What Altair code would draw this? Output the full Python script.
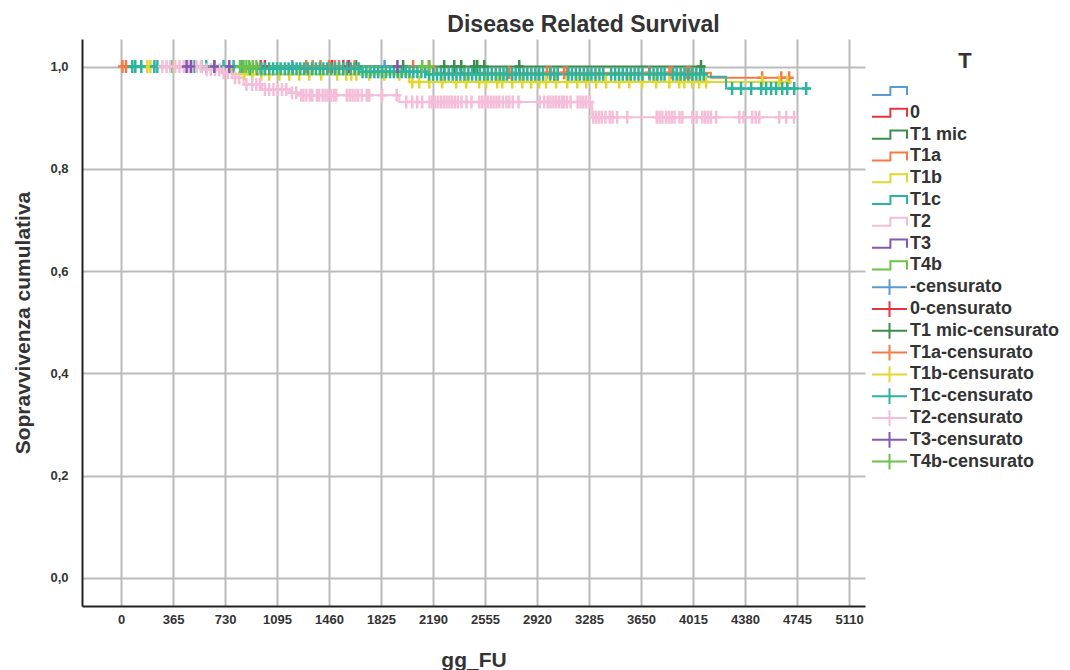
import altair as alt
import pandas as pd

FONT = "Liberation Sans"

GROUPS = ["", "0", "T1 mic", "T1a", "T1b", "T1c", "T2", "T3", "T4b"]
COLORS = ["#5b9bd5", "#e8333f", "#3b8d4c", "#f47b45", "#e3d62d",
          "#2bb59e", "#f5bdd7", "#8358b3", "#6cc24a"]
X_TICKS = [0, 365, 730, 1095, 1460, 1825, 2190, 2555, 2920, 3285,
           3650, 4015, 4380, 4745, 5110]
Y_TICKS = [0.0, 0.2, 0.4, 0.6, 0.8, 1.0]

# ---- group "" (blank) ----
blank_event_days = []
blank_event_surv = []
blank_end = 1850
blank_censored = [1202, 1590, 1850]

# ---- group "0" ----
zero_event_days = []
zero_event_surv = []
zero_end = 1600
zero_censored = [980, 1010, 1480, 1560, 1600]

# ---- group "T1 mic" ----
t1mic_event_days = []
t1mic_event_surv = []
t1mic_end = 4100
t1mic_censored = [1650, 1980, 2268, 2339, 2388, 2479, 2500, 2549, 2795, 4071]

# ---- group "T1a" ----
t1a_event_days = [2200, 4140]
t1a_event_surv = [0.988, 0.978]
t1a_end = 4690
t1a_censored = [10, 35, 1300, 1345, 1400, 1460, 1500, 1530, 1640, 2050, 2160,
                2725, 2990, 3015, 3110, 3130, 3707, 3850, 3870, 3970, 3990,
                4500, 4634, 4690]

# ---- group "T1b" ----
t1b_event_days = [775, 2023]
t1b_event_surv = [0.985, 0.970]
t1b_end = 4690
t1b_censored = [185, 206, 374, 865, 921, 984, 1040, 1111, 1181, 1251, 1321,
                1405, 1517, 1581, 1616, 1651, 1742, 1848, 1953, 2044, 2093,
                2163, 2254, 2353, 2423, 2514, 2563, 2640, 2676, 2746, 2816,
                2879, 2935, 2984, 3054, 3131, 3202, 3265, 3335, 3405, 3497,
                3567, 3658, 3756, 3848, 3918, 3953, 4009, 4058, 4107, 4500,
                4620, 4676]

# ---- group "T1c" ----
t1c_event_days = [900, 1672, 2142, 4107, 4247]
t1c_event_surv = [0.996, 0.990, 0.985, 0.980, 0.957]
t1c_end = 4844
t1c_censored = [79, 100, 142, 234, 255, 352, 514, 563, 598, 655, 720, 790,
                850, 905, 956, 985, 1010, 1040, 1068, 1095, 1120, 1150, 1176,
                1205, 1232, 1258, 1285, 1312, 1340, 1368, 1395, 1420, 1448,
                1475, 1503, 1530, 1558, 1585, 1612, 1640, 1668, 1695, 1722,
                1750, 1778, 1805, 1832, 1860, 1888, 1915, 1942, 1970, 1998,
                2025, 2052, 2080, 2108, 2135, 2162, 2190, 2218, 2245, 2272,
                2300, 2328, 2355, 2382, 2410, 2438, 2465, 2492, 2520, 2548,
                2575, 2602, 2630, 2658, 2685, 2708, 2745, 2770, 2798, 2825,
                2852, 2880, 2908, 2935, 2962, 3012, 3040, 3065, 3140, 3165,
                3192, 3220, 3248, 3275, 3302, 3330, 3358, 3385, 3440, 3468,
                3495, 3522, 3550, 3578, 3605, 3632, 3660, 3710, 3738, 3765,
                3792, 3815, 3875, 3900, 3928, 3955, 3982, 4010, 4038, 4065,
                4090, 4289, 4352, 4423, 4493, 4528, 4563, 4598, 4641, 4676,
                4725, 4809]

# ---- group "T2" ----
t2_event_days = [584, 704, 780, 860, 990, 1181, 1260, 1953, 3307]
t2_event_surv = [0.994, 0.988, 0.978, 0.965, 0.955, 0.949, 0.944, 0.931, 0.901]
t2_end = 4724
t2_censored = [290, 320, 345, 380, 410, 440, 470, 500, 530, 560, 600, 630,
               660, 690, 720, 750, 800, 830, 880, 920, 950, 975, 1010, 1040,
               1070, 1100, 1130, 1160, 1200, 1230, 1265, 1280, 1300, 1325,
               1342, 1375, 1391, 1415, 1435, 1455, 1475, 1495, 1510, 1585,
               1605, 1625, 1645, 1665, 1690, 1725, 1742, 1833, 1935, 2002,
               2044, 2079, 2114, 2165, 2185, 2205, 2225, 2245, 2265, 2285,
               2305, 2325, 2345, 2365, 2390, 2425, 2460, 2515, 2535, 2555,
               2575, 2595, 2615, 2635, 2655, 2680, 2705, 2725, 2750, 2790,
               2940, 2970, 2995, 3015, 3035, 3055, 3075, 3095, 3110, 3130,
               3155, 3205, 3225, 3245, 3265, 3290, 3315, 3335, 3355, 3375,
               3400, 3430, 3450, 3482, 3553, 3760, 3780, 3800, 3825, 3845,
               3865, 3885, 3920, 3940, 4010, 4040, 4080, 4100, 4120, 4140,
               4177, 4340, 4370, 4430, 4455, 4480, 4620, 4669, 4724]

# ---- group "T3" ----
t3_event_days = []
t3_event_surv = []
t3_end = 1953
t3_censored = [460, 490, 655, 760, 1940]

# ---- group "T4b" ----
t4b_event_days = []
t4b_event_surv = []
t4b_end = 2165
t4b_censored = [835, 860, 880, 900, 925, 950, 2114, 2165]

GROUP_DATA = [
    ("", blank_event_days, blank_event_surv, blank_end, blank_censored),
    ("0", zero_event_days, zero_event_surv, zero_end, zero_censored),
    ("T1 mic", t1mic_event_days, t1mic_event_surv, t1mic_end, t1mic_censored),
    ("T1a", t1a_event_days, t1a_event_surv, t1a_end, t1a_censored),
    ("T1b", t1b_event_days, t1b_event_surv, t1b_end, t1b_censored),
    ("T1c", t1c_event_days, t1c_event_surv, t1c_end, t1c_censored),
    ("T2", t2_event_days, t2_event_surv, t2_end, t2_censored),
    ("T3", t3_event_days, t3_event_surv, t3_end, t3_censored),
    ("T4b", t4b_event_days, t4b_event_surv, t4b_end, t4b_censored),
]


def km_at(t, ev_days, ev_surv):
    s = 1.0
    for d, v in zip(ev_days, ev_surv):
        if d <= t:
            s = v
    return s


line_rows, cens_rows = [], []
for gi, (g, ev_d, ev_s, end, cens) in enumerate(GROUP_DATA):
    line_rows.append(dict(lab=g, gi=gi, t=0, s=1.0))
    for d, v in zip(ev_d, ev_s):
        line_rows.append(dict(lab=g, gi=gi, t=d, s=v))
    line_rows.append(dict(lab=g, gi=gi, t=end, s=km_at(end, ev_d, ev_s)))
    for c in cens:
        cens_rows.append(dict(lab=g + "-censurato", gi=gi, t=c,
                              s=km_at(c, ev_d, ev_s)))

lines_df = pd.DataFrame(line_rows)
cens_df = pd.DataFrame(cens_rows)

LEGEND_LABELS = GROUPS + [g + "-censurato" for g in GROUPS]
STEP_PATH = "M-1,0.23H0.05V-0.23H1V0.23"
CROSS_LEGEND = "M-1,0H1M0,-0.45V0.45"
CROSS_MARK = "M-0.7,0H0.7M0,-1V1"

legend_df = pd.DataFrame({"lab": LEGEND_LABELS,
                          "t": [-9000] * len(LEGEND_LABELS),
                          "s": [0.5] * len(LEGEND_LABELS)})

color_scale = alt.Scale(domain=LEGEND_LABELS, range=COLORS + COLORS)
shape_scale = alt.Scale(domain=LEGEND_LABELS,
                        range=[STEP_PATH] * 9 + [CROSS_LEGEND] * 9)

x_enc = alt.X("t:Q", scale=alt.Scale(domain=[-274, 5222], nice=False, zero=False),
              axis=alt.Axis(values=X_TICKS, format="d", title="gg_FU",
                            labelFontSize=13, labelFontWeight="bold",
                            labelPadding=7, titleFontSize=21,
                            titleFontWeight="bold", titlePadding=23,
                            ticks=False, labelOverlap=False, labelFlush=False))
y_enc = alt.Y("s:Q", scale=alt.Scale(domain=[-0.055, 1.054], nice=False, zero=False),
              axis=alt.Axis(values=Y_TICKS,
                            labelExpr="replace(format(datum.value, '.1f'), '.', ',')",
                            title="Sopravvivenza cumulativa",
                            labelFontSize=13, labelFontWeight="bold",
                            labelPadding=14, titleFontSize=21,
                            titleFontWeight="bold", titlePadding=16,
                            ticks=False))

lines = alt.Chart(lines_df).mark_line(interpolate="step-after", strokeWidth=2).encode(
    x=x_enc, y=y_enc,
    color=alt.Color("lab:N", scale=color_scale, legend=None),
    detail="gi:O",
)

censors = alt.Chart(cens_df).mark_point(shape=CROSS_MARK, filled=False, size=169,
                                        strokeWidth=2.5, opacity=1).encode(
    x="t:Q", y="s:Q",
    color=alt.Color("lab:N", scale=color_scale, legend=None),
    order="gi:Q",
)

legend = alt.Legend(title="T", orient="none", legendX=789, legendY=12,
                    titleFontSize=22, titleFont=FONT, titleFontWeight="bold",
                    titleColor="#333333", titleAnchor="middle", titlePadding=9,
                    labelFontSize=18, labelFont=FONT, labelFontWeight="bold",
                    labelColor="#333333", labelOffset=2, symbolSize=1225,
                    symbolStrokeWidth=2, clipHeight=18, rowPadding=3.8,
                    symbolFillColor="transparent", padding=0)

legend_layer = alt.Chart(legend_df).mark_point(filled=False, clip=True, size=1225,
                                               strokeWidth=2, opacity=1).encode(
    x="t:Q", y="s:Q",
    color=alt.Color("lab:N", scale=color_scale, legend=legend),
    shape=alt.Shape("lab:N", scale=shape_scale, legend=legend),
)

chart = alt.layer(lines, censors, legend_layer).resolve_legend(
    color="independent", shape="independent"
).properties(
    width=783, height=567,
    title=alt.TitleParams("Disease Related Survival", fontSize=23, font=FONT,
                          fontWeight="bold", color="#333333", dx=110, offset=2,
                          anchor="middle"),
    padding={"left": 12, "top": 14, "right": 0, "bottom": 0},
).configure_axis(
    gridColor="#bbbbbb", gridWidth=2, domainColor="#222222", domainWidth=2,
    labelColor="#333333", titleColor="#333333", labelFont=FONT, titleFont=FONT,
).configure_view(strokeWidth=0)

chart.save("out.html", embed_options={"renderer": "svg", "actions": False})
